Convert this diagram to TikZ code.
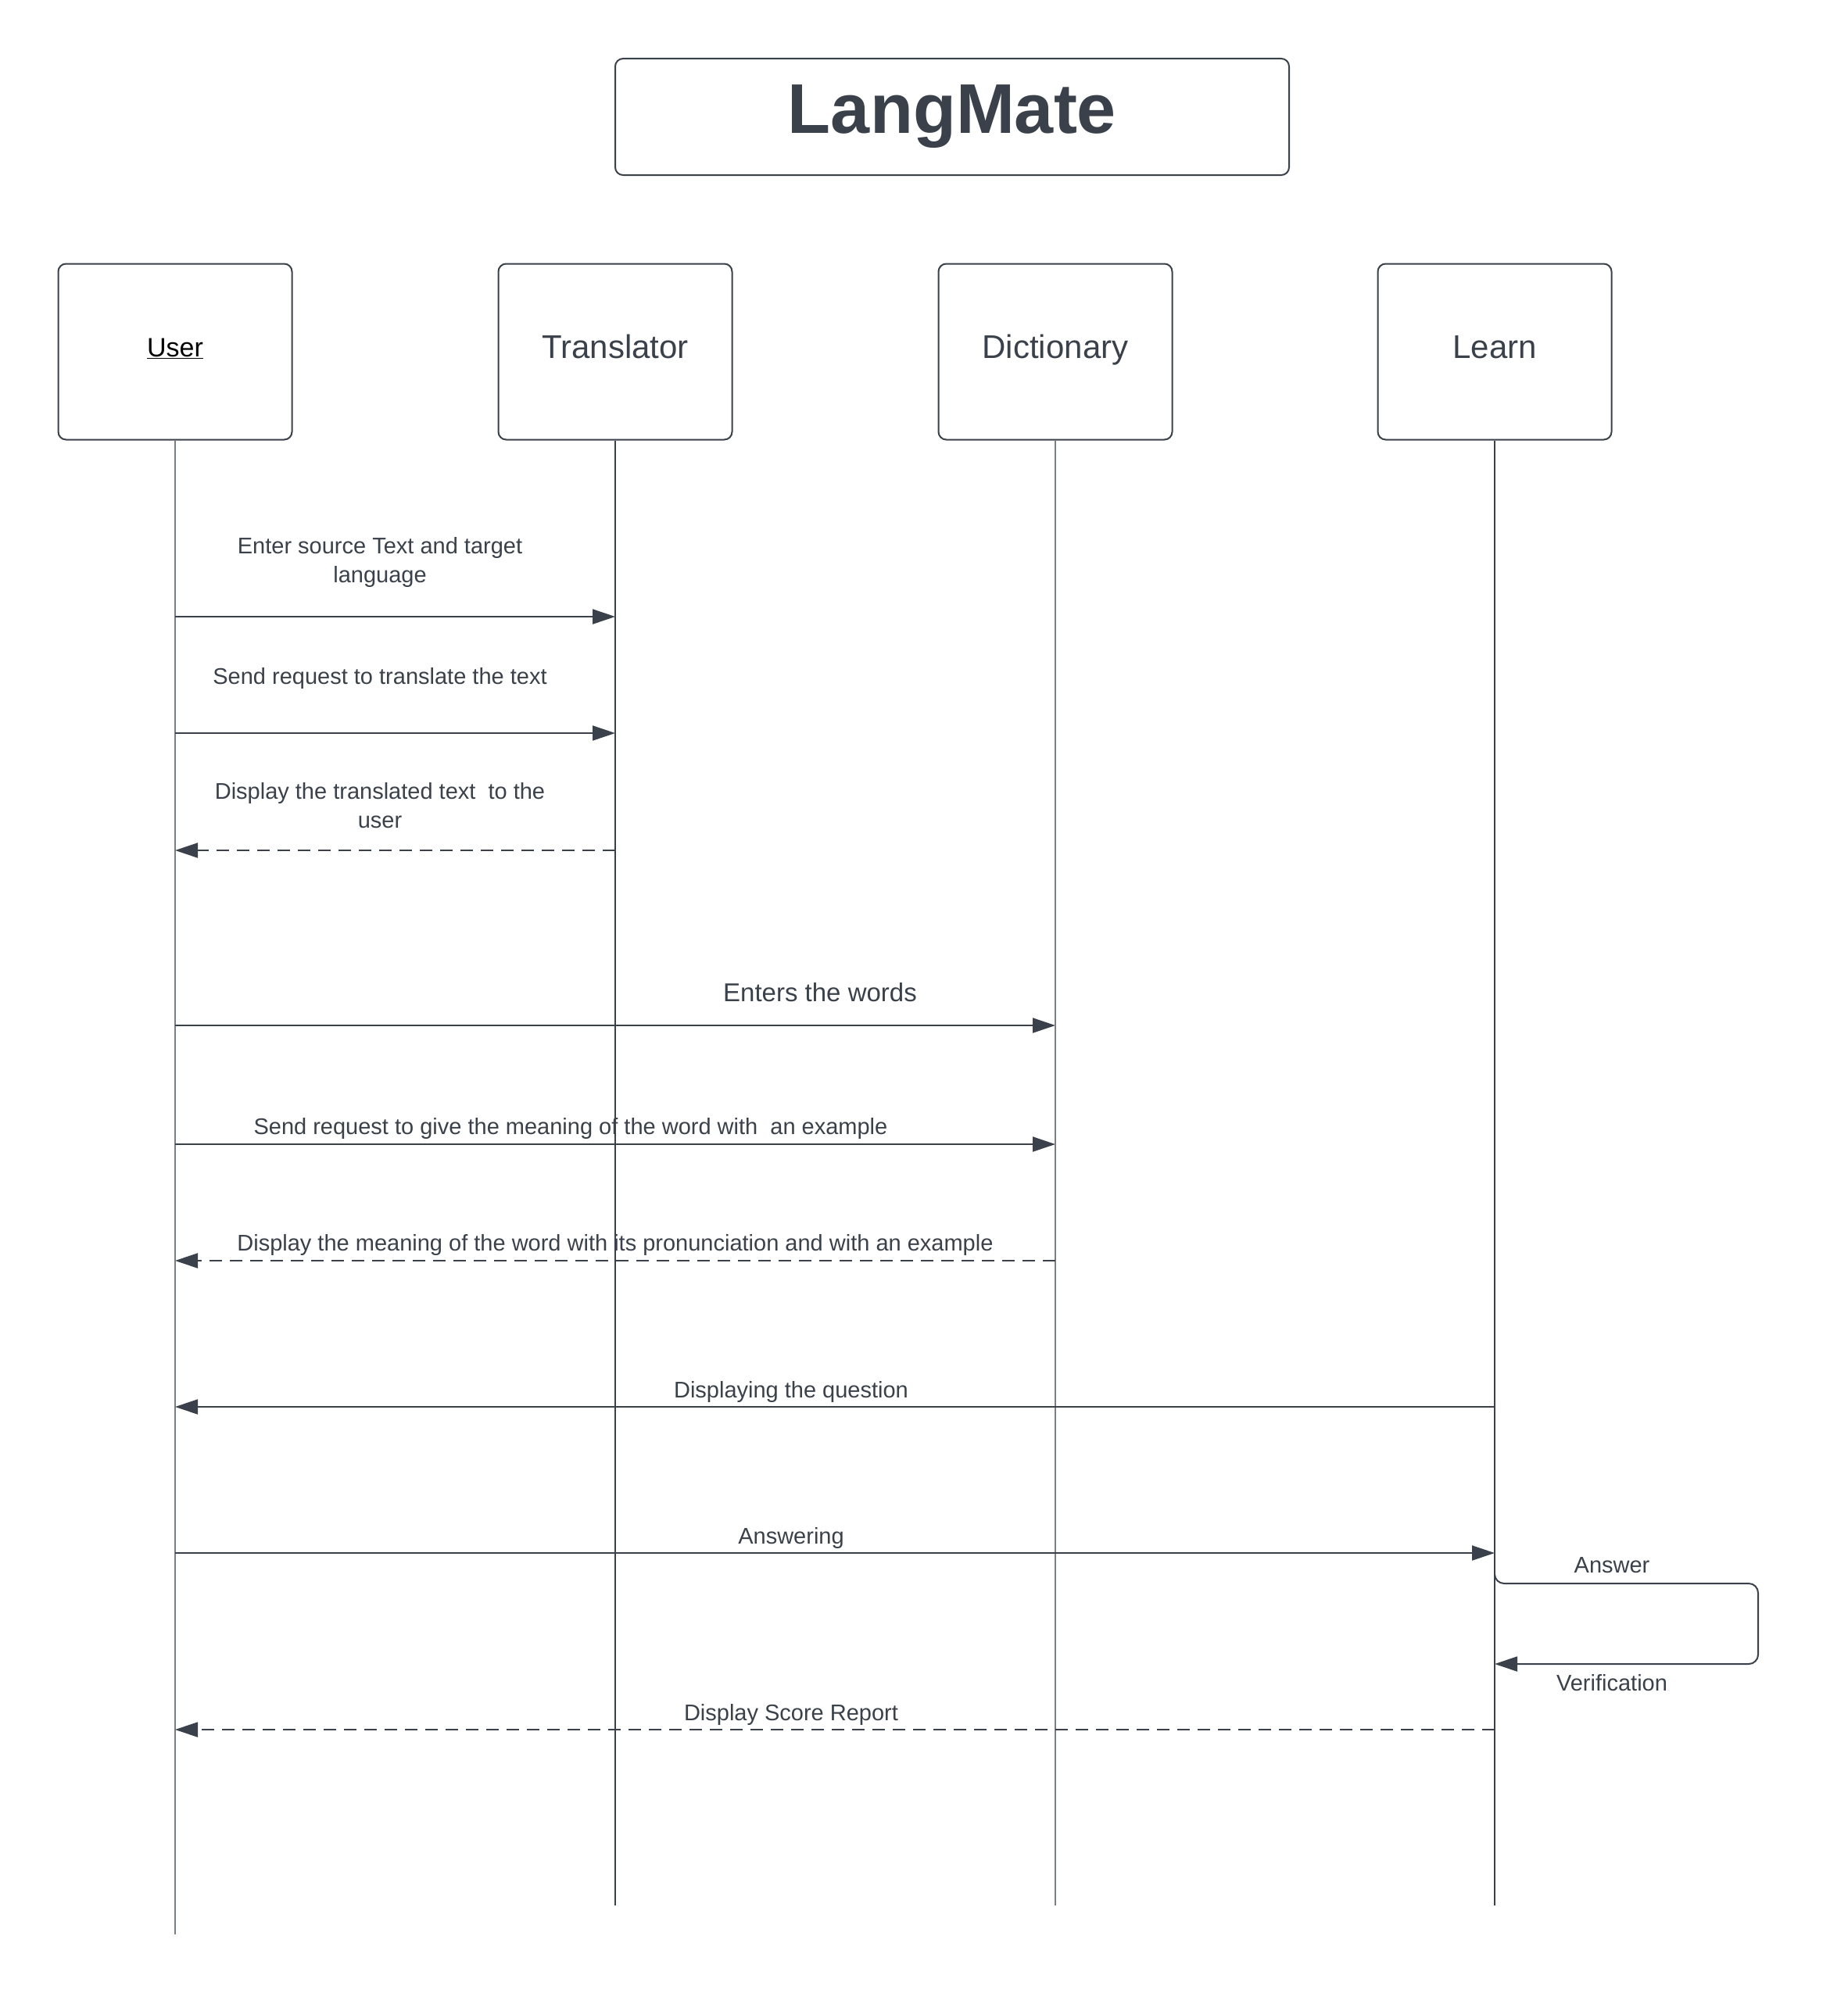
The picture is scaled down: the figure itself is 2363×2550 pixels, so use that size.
\documentclass[tikz,border=0pt]{standalone}
\usepackage{fontspec}
\setmainfont{Liberation Sans}
\usetikzlibrary{arrows.meta}
\definecolor{ink}{HTML}{3A414A}
\definecolor{lightink}{HTML}{7A7F86}
\begin{document}
\begin{tikzpicture}[x=1pt,y=-1pt,
  actor/.style={draw=ink,line width=2pt,rounded corners=10pt,minimum width=299pt,minimum height=225pt,inner sep=0pt,font=\fontsize{42}{50}\selectfont,text=ink,text height=30pt,text depth=13pt},
  lifeline/.style={draw=ink,line width=2pt},
  lightlife/.style={draw=lightink,line width=1.5pt},
  msg/.style={draw=ink,line width=2pt,-{Triangle[length=29pt,width=19pt]}},
  reply/.style={msg,dash pattern=on 16pt off 10pt},
  lbl/.style={font=\fontsize{29}{37}\selectfont,text=ink,align=center,inner sep=0pt}]
\useasboundingbox (0,0) rectangle (2363,2550);

% title
\node[draw=ink,line width=2pt,rounded corners=10pt,minimum width=862pt,minimum height=149pt,inner sep=0pt,
      font=\bfseries\fontsize{90}{100}\selectfont,text=ink] (title) at (1218,149.5) {LangMate};

% actors
\node[actor,text=black,font=\fontsize{34}{40}\selectfont,text height=24pt,text depth=12pt] (user) at (224,450) {\underline{User}};
\node[actor] (trans) at (787,450) {Translator};
\node[actor] (dict) at (1350,450) {Dictionary};
\node[actor] (learn) at (1912,450) {Learn};

% lifeline ends
\coordinate (uend) at (224,2475);
\coordinate (tend) at (787,2438);
\coordinate (dend) at (1350,2438);
\coordinate (lend) at (1912,2438);
\draw[lightlife] (user.south) -- (uend);
\draw[lifeline] (trans.south) -- (tend);
\draw[lightlife] (dict.south) -- (dend);
\draw[lifeline] (learn.south) -- (lend);

% message anchor points
\coordinate (u1) at (224,789);  \coordinate (t1) at (787,789);
\coordinate (u2) at (224,938);  \coordinate (t2) at (787,938);
\coordinate (u3) at (224,1088); \coordinate (t3) at (787,1088);
\coordinate (u4) at (224,1312); \coordinate (d4) at (1350,1312);
\coordinate (u5) at (224,1464); \coordinate (d5) at (1350,1464);
\coordinate (u6) at (224,1613); \coordinate (d6) at (1350,1613);
\coordinate (u7) at (224,1800); \coordinate (l7) at (1912,1800);
\coordinate (u8) at (224,1987); \coordinate (l8) at (1912,1987);
\coordinate (l9a) at (1912,2016); \coordinate (l9b) at (1912,2129);
\coordinate (r9a) at (2249,2026); \coordinate (r9b) at (2249,2129);
\coordinate (u10) at (224,2213); \coordinate (l10) at (1912,2213);

% messages
\draw[msg] (u1) -- (t1);
\node[lbl] (m1) at (486,719) {Enter source Text and target\\language};
\draw[msg] (u2) -- (t2);
\node[lbl] (m2) at (486,868) {Send request to translate the text};
\draw[reply] (t3) -- (u3);
\node[lbl] (m3) at (486,1031) {Display the translated text\ \ to the\\user};
\draw[msg] (u4) -- (d4);
\node[lbl,font=\fontsize{33}{40}\selectfont] (m4) at (1049,1270) {Enters the words};
\draw[msg] (u5) -- (d5);
\node[lbl] (m5) at (730,1444) {Send request to give the meaning of the word with\ \ an example};
\draw[reply] (d6) -- (u6);
\node[lbl] (m6) at (787,1593) {Display the meaning of the word with its pronunciation and with an example};
\draw[msg] (l7) -- (u7);
\node[lbl] (m7) at (1012,1781) {Displaying the question};
\draw[msg] (u8) -- (l8);
\node[lbl] (m8) at (1012,1968) {Answering};
\draw[msg,rounded corners=12pt] (l9a) |- (r9a) -- (r9b) -- (l9b);
\node[lbl] (m9a) at (2062,2003) {Answer};
\node[lbl] (m9b) at (2062,2153) {Verification};
\draw[reply] (l10) -- (u10);
\node[lbl] (m10) at (1012,2194) {Display Score Report};
\end{tikzpicture}
\end{document}
